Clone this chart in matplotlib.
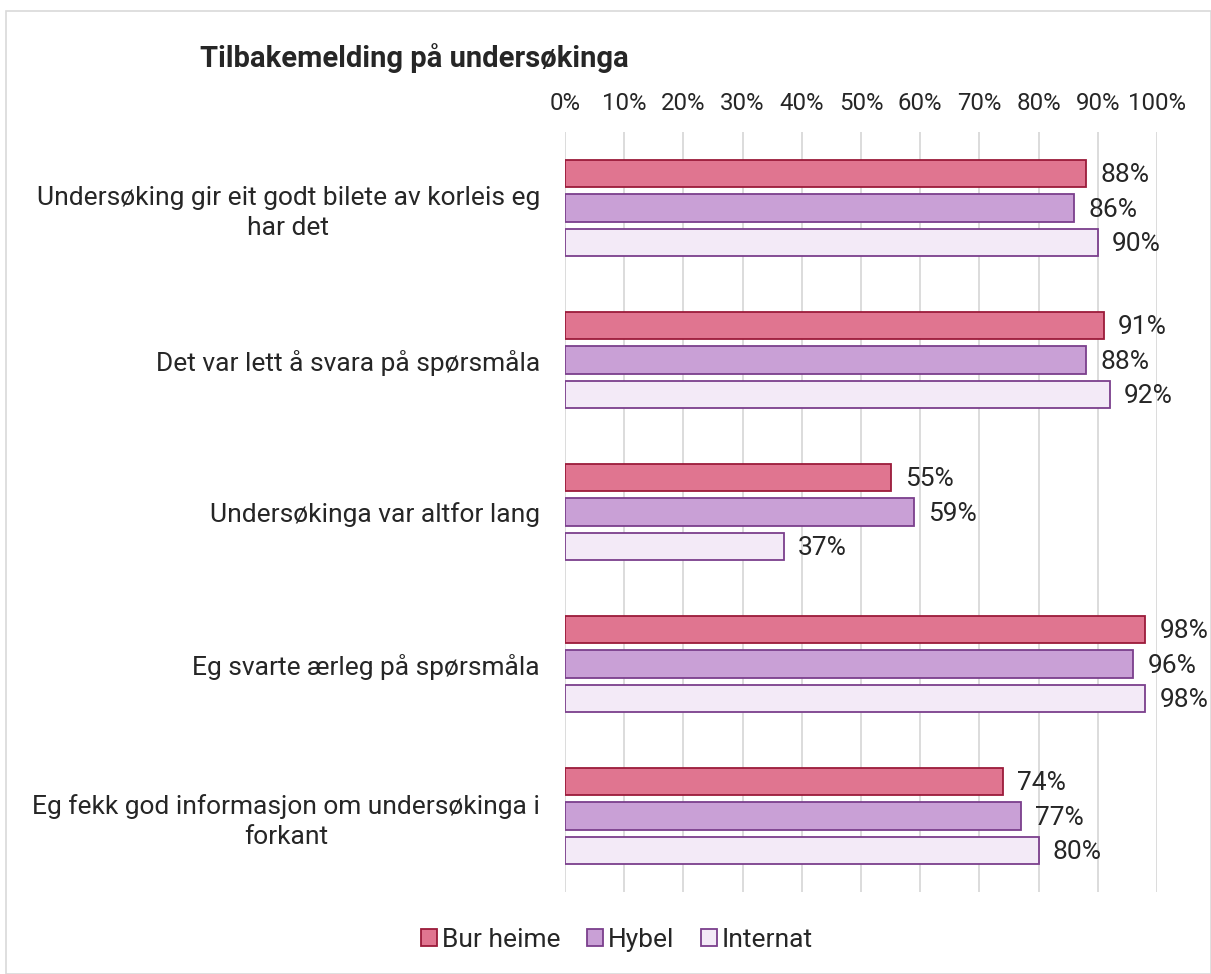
import numpy as np
import matplotlib.pyplot as plt
from matplotlib.patches import Rectangle

plt.rcParams['font.family'] = ['Roboto', 'DejaVu Sans']

# Survey statements (top to bottom) and shares per living arrangement
statements = [
    "Undersøking gir eit godt bilete av korleis eg\nhar det",
    "Det var lett å svara på spørsmåla",
    "Undersøkinga var altfor lang",
    "Eg svarte ærleg på spørsmåla",
    "Eg fekk god informasjon om undersøkinga i\nforkant",
]
bur_heime = [88, 91, 55, 98, 74]
hybel = [86, 88, 59, 96, 77]
internat = [90, 92, 37, 98, 80]

series = [
    ("Bur heime", bur_heime, "#E07590", "#9B1B3A"),
    ("Hybel", hybel, "#C9A0D6", "#7B3F8C"),
    ("Internat", internat, "#F3EAF7", "#7B3F8C"),
]

fig = plt.figure(figsize=(12.11, 9.74), dpi=100)
fig.patches.append(Rectangle((6 / 1211, 0), 1 - 6 / 1211, 1 - 11 / 974,
                             transform=fig.transFigure, fill=False,
                             edgecolor="#D9D9D9", linewidth=1.2))

ax = fig.add_axes([565 / 1211, 82 / 974, (1157 - 565) / 1211, 760 / 974])

y = np.arange(len(statements))
step = 0.224
height = 0.178
for i, (name, vals, fc, ec) in enumerate(series):
    pos = y + (i - 1) * step
    ax.barh(pos, vals, height=height, color=fc, edgecolor=ec,
            linewidth=1.3, label=name, zorder=3)
    for p, v in zip(pos, vals):
        ax.text(v + 2.4, p + 0.01, f"{v}%", va="center", ha="left",
                fontsize=19, color="#262626")

ax.set_xlim(0, 100)
ax.set_ylim(len(statements) - 0.5, -0.5)
ax.set_xticks(np.arange(0, 101, 10))
ax.set_xticklabels([f"{t}%" for t in range(0, 101, 10)])
ax.xaxis.tick_top()
ax.tick_params(axis="x", length=0, pad=12, labelsize=17.3, labelcolor="#262626")
ax.set_yticks(y)
ax.set_yticklabels(statements, fontsize=19, color="#262626", linespacing=1.3)
ax.tick_params(axis="y", length=0, pad=18)
for lbl in ax.get_yticklabels():
    lbl.set_horizontalalignment("right")
    lbl.set_multialignment("center")
ax.grid(axis="x", color="#D9D9D9", linewidth=1.3, zorder=0)
for s in ax.spines.values():
    s.set_visible(False)

fig.text(200 / 1211, 1 - 58 / 974, "Tilbakemelding på undersøkinga",
         fontsize=21, fontweight="bold", color="#262626", va="center")

fig.legend(loc="center", bbox_to_anchor=(617 / 1211, 1 - 940 / 974), ncol=3,
           frameon=False, fontsize=19, handlelength=0.6, handleheight=0.6,
           handletextpad=0.2, columnspacing=1.0, labelcolor="#262626")

fig.savefig("out.png", dpi=100)
